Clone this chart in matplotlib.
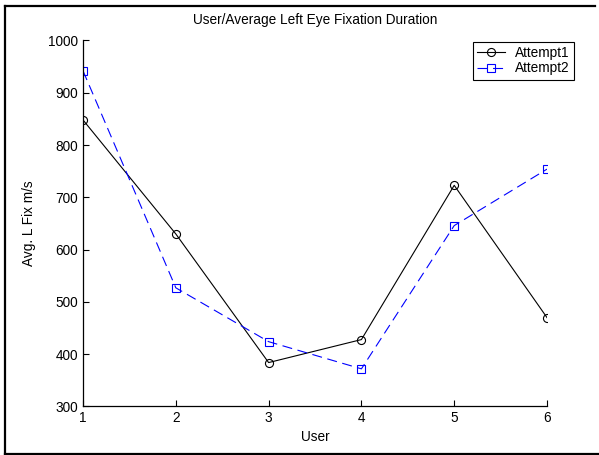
import matplotlib
matplotlib.use('Agg')
import matplotlib.pyplot as plt
from matplotlib.lines import Line2D

users = [1, 2, 3, 4, 5, 6]
attempt1 = [848, 630, 384, 428, 723, 470]
attempt2 = [942, 527, 424, 372, 646, 754]

fs = 9.8
plt.rcParams['font.family'] = ['Liberation Sans', 'DejaVu Sans']
plt.rcParams['font.size'] = fs

fig = plt.figure(figsize=(5.99, 4.55), dpi=100)
ax = fig.add_axes([0.1386, 0.1066, 0.7746, 0.8044])

ax.plot(users, attempt1, color='black', lw=0.8, marker='o', markersize=5.8,
        markerfacecolor='none', markeredgewidth=0.8, label='Attempt1')
ax.plot(users, attempt2, color='blue', lw=0.8, ls=(0, (9, 5)), marker='s',
        markersize=6.3, markerfacecolor='none', markeredgewidth=0.8,
        label='Attempt2')

ax.set_xlim(1, 6)
ax.set_ylim(300, 1000)
ax.set_xticks(users)
ax.set_yticks(range(300, 1001, 100))

for s in ['top', 'right']:
    ax.spines[s].set_visible(False)
for s in ['left', 'bottom']:
    ax.spines[s].set_linewidth(0.9)
ax.tick_params(direction='in', length=4, width=0.8, labelsize=fs, colors='black')
ax.tick_params(axis='y', pad=3.5)
ax.tick_params(axis='x', pad=3.5)

ax.set_title('User/Average Left Eye Fixation Duration', fontsize=fs, pad=12)
ax.set_xlabel('User', fontsize=fs)
ax.set_ylabel('Avg. L Fix m/s', fontsize=fs)
ax.xaxis.set_label_coords(0.5, -0.064)
ax.yaxis.set_label_coords(-0.102, 0.5)

leg = ax.legend(loc='upper right', bbox_to_anchor=(574 / 599, 1 - 42 / 455),
                bbox_transform=fig.transFigure, borderaxespad=0,
                fancybox=False, edgecolor='black', framealpha=1,
                handlelength=2.0, fontsize=fs, borderpad=0.3,
                labelspacing=0.1, handletextpad=0.8)
leg.get_frame().set_linewidth(0.8)

# figure border (left, top, bottom)
x0, x1 = 4.5 / 599, 595 / 599
y_top, y_bot = 1 - 5.5 / 455, 1 - 454 / 455
fig.add_artist(Line2D([x0, x0], [y_bot, y_top], color='black', lw=1.6))
fig.add_artist(Line2D([x0, x1], [y_top, y_top], color='black', lw=1.6))
fig.add_artist(Line2D([x0, 1.0], [y_bot, y_bot], color='black', lw=1.6))

fig.savefig('out.png', dpi=100)
